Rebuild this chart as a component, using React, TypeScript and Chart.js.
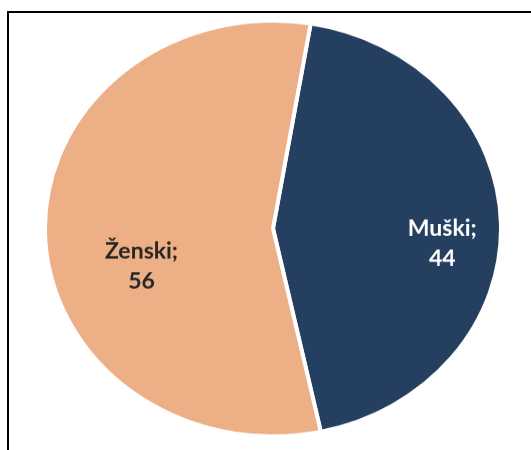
import React, { useEffect, useRef } from "react";
import { Chart, registerables } from "chart.js";

Chart.register(...registerables);

// ---- data ----
const categories = ["Muški", "Ženski"];
const values = [44, 56];
const colors = ["#253F61", "#EDAF85"];
const labelColors = ["#FFFFFF", "#262626"];

// ---- label placement (polar, relative to each slice) ----
const labelRadiusFraction = [0.746, 0.605];
const labelAngleShiftDeg = [6.7, -16.3];

const ASPECT = 0.91; // vertical squash of the pie (elliptical look)
const SIZE = 460;

const labelPlugin = {
  id: "sliceLabels",
  afterDatasetsDraw(chart: any) {
    const ctx = chart.ctx;
    const meta = chart.getDatasetMeta(0);
    meta.data.forEach((arc: any, i: number) => {
      const { x, y, startAngle, endAngle, outerRadius } = arc.getProps(
        ["x", "y", "startAngle", "endAngle", "outerRadius"],
        true
      );
      const mid = (startAngle + endAngle) / 2 + (labelAngleShiftDeg[i] * Math.PI) / 180;
      const r = outerRadius * labelRadiusFraction[i];
      const lx = x + Math.cos(mid) * r;
      const ly = y + Math.sin(mid) * r;
      ctx.save();
      ctx.translate(lx, ly);
      ctx.scale(1, 1 / ASPECT);
      ctx.font = "bold 23px Lato, 'Open Sans', sans-serif";
      ctx.fillStyle = labelColors[i];
      ctx.textAlign = "center";
      ctx.textBaseline = "middle";
      ctx.fillText(categories[i] + ";", 0, -15);
      ctx.fillText(String(values[i]), 0, 15);
      ctx.restore();
    });
  },
};

function PieChart() {
  const ref = useRef<HTMLCanvasElement | null>(null);
  useEffect(() => {
    if (!ref.current) return;
    const chart = new Chart(ref.current, {
      type: "pie",
      data: {
        labels: categories,
        datasets: [
          {
            data: values,
            backgroundColor: colors,
            borderColor: "#FFFFFF",
            borderWidth: 4,
          },
        ],
      },
      options: {
        responsive: false,
        animation: false,
        rotation: 9.5,
        layout: { padding: 0 },
        plugins: {
          legend: { display: false },
          tooltip: { enabled: false },
        },
      },
      plugins: [labelPlugin],
    });
    return () => chart.destroy();
  }, []);
  return (
    <canvas
      ref={ref}
      width={SIZE}
      height={SIZE}
      style={{
        position: "absolute",
        left: 43,
        top: 228 - Math.round((SIZE * ASPECT) / 2),
        width: SIZE,
        height: Math.round(SIZE * ASPECT),
      }}
    />
  );
}

export default function App() {
  return (
    <div
      style={{
        position: "fixed",
        left: 0,
        top: 0,
        width: 531,
        height: 450,
        background: "#FFFFFF",
        overflow: "hidden",
      }}
    >
      <div
        style={{
          position: "absolute",
          left: 7,
          top: 11,
          width: 600,
          height: 500,
          borderTop: "2px solid #000",
          borderLeft: "2px solid #000",
        }}
      />
      <PieChart />
    </div>
  );
}
